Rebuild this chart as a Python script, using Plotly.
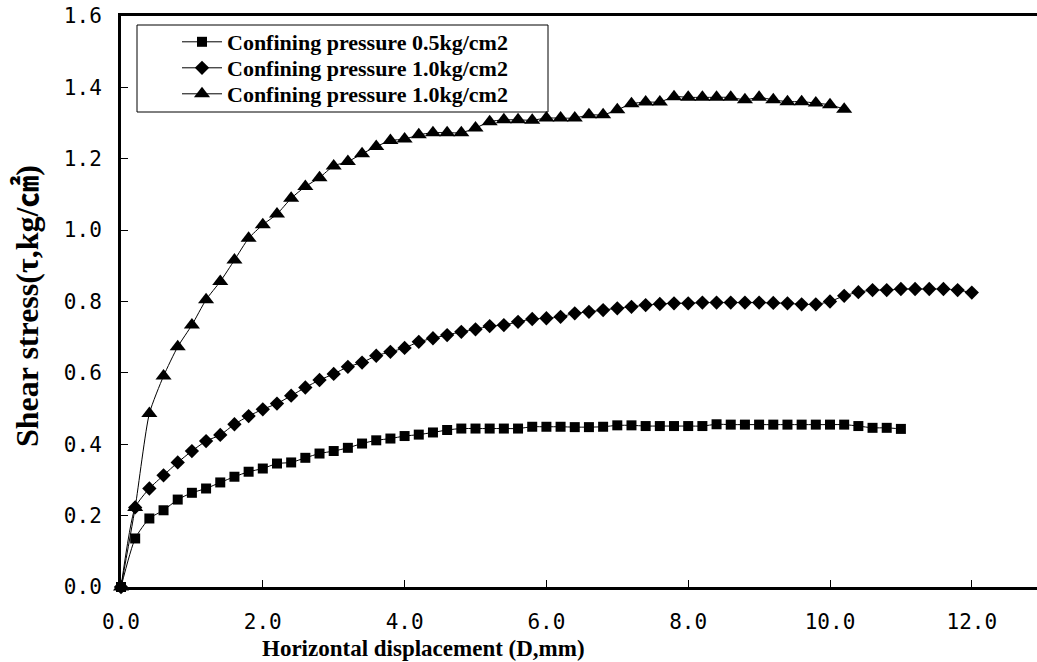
import plotly.graph_objects as go

# ---- data ----
x_sq = [round(0.2 * i, 1) for i in range(56)]  # 0.0 .. 11.0 (test readings every 0.2 mm)
y_sq = [0, 0.136, 0.192, 0.215, 0.245, 0.264, 0.276, 0.293, 0.309, 0.323,
        0.332, 0.346, 0.349, 0.362, 0.374, 0.381, 0.390, 0.402, 0.411, 0.416,
        0.423, 0.427, 0.433, 0.440, 0.444, 0.444, 0.444, 0.444, 0.444, 0.449,
        0.449, 0.449, 0.448, 0.448, 0.449, 0.453, 0.453, 0.451, 0.451, 0.451,
        0.451, 0.451, 0.456, 0.455, 0.455, 0.455, 0.455, 0.455, 0.455, 0.455,
        0.455, 0.455, 0.451, 0.446, 0.446, 0.443]

x_di = [round(0.2 * i, 1) for i in range(61)]  # 0.0 .. 12.0
y_di = [0, 0.223, 0.276, 0.313, 0.349, 0.381, 0.409, 0.426, 0.456, 0.479,
        0.498, 0.514, 0.536, 0.559, 0.580, 0.597, 0.617, 0.629, 0.648, 0.659,
        0.670, 0.687, 0.697, 0.706, 0.715, 0.722, 0.731, 0.734, 0.743, 0.751,
        0.753, 0.757, 0.767, 0.771, 0.776, 0.781, 0.785, 0.790, 0.793, 0.795,
        0.795, 0.797, 0.797, 0.797, 0.797, 0.797, 0.796, 0.795, 0.792, 0.792,
        0.800, 0.816, 0.826, 0.832, 0.832, 0.835, 0.835, 0.835, 0.835, 0.832,
        0.825]

x_tr = [round(0.2 * i, 1) for i in range(52)]  # 0.0 .. 10.2
y_tr = [0, 0.223, 0.486, 0.591, 0.673, 0.734, 0.805, 0.856, 0.916, 0.977,
        1.015, 1.045, 1.089, 1.122, 1.147, 1.180, 1.192, 1.214, 1.234, 1.251,
        1.255, 1.267, 1.273, 1.273, 1.273, 1.286, 1.304, 1.309, 1.309, 1.308,
        1.314, 1.314, 1.314, 1.323, 1.323, 1.337, 1.354, 1.359, 1.359, 1.374,
        1.372, 1.372, 1.372, 1.372, 1.365, 1.372, 1.365, 1.360, 1.360, 1.356,
        1.351, 1.339]

names = ["Confining pressure 0.5kg/cm2",
         "Confining pressure 1.0kg/cm2",
         "Confining pressure 1.0kg/cm2"]

x_ticks = [0, 2, 4, 6, 8, 10, 12]
y_ticks = [0, 0.2, 0.4, 0.6, 0.8, 1.0, 1.2, 1.4, 1.6]

W, H = 1037, 662
ML, MR, MT, MB = 121, 0, 16, 75

SERIF = "Liberation Serif, Times New Roman, Noto Sans CJK KR, serif"
TICKF = "DejaVu Sans Mono, monospace"

plot_w = W - ML - MR
plot_h = H - MT - MB
x_max = plot_w / 70.9


def px_x(p):
    return (p - ML) / plot_w


def px_y(p):
    return (H - MB - p) / plot_h


fig = go.Figure()
series = [(x_sq, y_sq, "square", 10), (x_di, y_di, "diamond", 11), (x_tr, y_tr, "triangle-up", 14)]
legend_ids = ["legend", "legend2", "legend3"]
for (xs, ys, sym, sz), nm, lg in zip(series, names, legend_ids):
    fig.add_trace(go.Scatter(
        x=xs, y=ys, name=nm, mode="lines+markers",
        line=dict(color="black", width=1, shape="spline", smoothing=0.6),
        marker=dict(symbol=sym, size=sz, color="black", line=dict(width=0)),
        cliponaxis=False, legend=lg,
    ))

legend_rows = [42, 68, 94]
leg_font = dict(family=SERIF, size=22, color="black", weight="bold")
legend_cfg = {}
for lg, row in zip(legend_ids, legend_rows):
    legend_cfg[lg] = dict(
        x=px_x(177), y=px_y(row), xanchor="left", yanchor="middle",
        bgcolor="rgba(0,0,0,0)", borderwidth=0, font=leg_font,
        itemwidth=40,
    )

fig.update_layout(
    width=W, height=H,
    margin=dict(l=ML, r=MR, t=MT, b=MB),
    paper_bgcolor="white", plot_bgcolor="white",
    showlegend=True,
    **legend_cfg,
    xaxis=dict(
        range=[0, x_max], tickvals=x_ticks, tickformat=".1f",
        showgrid=False, zeroline=False,
        showline=True, linecolor="black", linewidth=3, mirror=True,
        ticks="inside", ticklen=7, tickcolor="black", tickwidth=1,
        tickfont=dict(family=TICKF, size=21, color="black"),
        ticklabelstandoff=14,
    ),
    yaxis=dict(
        range=[0, 1.6], tickvals=y_ticks, tickformat=".1f",
        showgrid=False, zeroline=False,
        showline=True, linecolor="black", linewidth=3, mirror=False,
        ticks="inside", ticklen=7, tickcolor="black", tickwidth=1,
        tickfont=dict(family=TICKF, size=21, color="black"),
        ticklabelstandoff=12,
    ),
    shapes=[dict(
        type="rect", xref="paper", yref="paper",
        x0=px_x(137), x1=px_x(548), y0=px_y(112), y1=px_y(25),
        line=dict(color="black", width=1), fillcolor="rgba(0,0,0,0)",
        layer="above",
    )],
    annotations=[
        dict(text="Horizontal displacement (D,mm)", xref="paper", yref="paper",
             x=px_x(423), y=px_y(648), xanchor="center", yanchor="middle",
             showarrow=False,
             font=dict(family=SERIF, size=23, color="black", weight="bold")),
        dict(text="Shear stress(τ,kg/㎠)", xref="paper", yref="paper",
             x=px_x(27), y=px_y(306), xanchor="center", yanchor="middle",
             textangle=-90, showarrow=False,
             font=dict(family=SERIF, size=32, color="black", weight="bold")),
    ],
)

fig.write_html("out.html")
